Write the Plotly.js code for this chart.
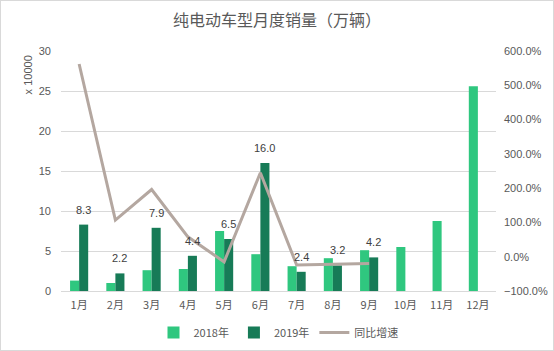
<!DOCTYPE html>
<html><head><meta charset="utf-8">
<script src="https://cdn.plot.ly/plotly-3.0.1.min.js"></script>
<style>html,body{margin:0;padding:0;background:#fff}#c{width:552px;height:349px;border:1px solid #d9d9d9}</style>
</head><body><div id="c"></div>
<script>
var months = ['1月','2月','3月','4月','5月','6月','7月','8月','9月','10月','11月','12月'];
var sales2018 = [1.3, 1.0, 2.6, 2.75, 7.5, 4.6, 3.1, 4.1, 5.1, 5.5, 8.75, 25.6];
var sales2019 = [8.3, 2.2, 7.9, 4.4, 6.5, 16.0, 2.4, 3.2, 4.2];
var growth = [5.62, 1.07, 1.96, 0.58, -0.15, 2.45, -0.24, -0.22, -0.20];
var labels2019 = ['8.3','2.2','7.9','4.4','6.5','16.0','2.4','3.2','4.2'];

var font = 'Liberation Sans, Arial, sans-serif';
var data = [
  {type:'bar', name:'2018年', x:months, y:sales2018, marker:{color:'#2fc77f'}, hoverinfo:'skip'},
  {type:'bar', name:'2019年', x:months.slice(0,9), y:sales2019, marker:{color:'#177b57'}, hoverinfo:'skip'},
  {type:'scatter', mode:'lines', name:'同比增速', x:months.slice(0,9), y:growth, yaxis:'y2',
   line:{color:'#b4a7a0', width:3}, hoverinfo:'skip'}
];
var ann = labels2019.map(function(t,i){
  return {x:months[i], y:sales2019[i], xref:'x', yref:'y', text:t, showarrow:false,
    yanchor:'bottom', yshift:7, xshift:4.5, font:{family:font, size:11, color:'#404040'}};
});
ann.push({text:'x 10000', xref:'paper', yref:'paper', x:-0.075, xanchor:'center', y:0.9, yanchor:'middle',
  textangle:-90, showarrow:false, font:{family:font, size:11, color:'#595959'}});
var layout = {
  width:552, height:349,
  margin:{l:60, r:57, t:50, b:59, autoexpand:false},
  paper_bgcolor:'#fff', plot_bgcolor:'#fff',
  title:{text:'纯电动车型月度销量（万辆）', x:0.5, xanchor:'center', y:0.945, yanchor:'middle',
    font:{family:'Noto Sans CJK SC, sans-serif', size:16, color:'#595959'}},
  barmode:'group', bargap:0.5, bargroupgap:0,
  xaxis:{type:'category', tickfont:{family:'Noto Sans CJK SC, sans-serif', size:11, color:'#595959'},
    showline:false, ticks:'', showgrid:false, fixedrange:true, ticklabelstandoff:6},
  yaxis:{range:[0,30], dtick:5, gridcolor:'#d9d9d9', gridwidth:1, zeroline:true, zerolinecolor:'#d9d9d9',
    tickfont:{family:font, size:11, color:'#595959'}, ticks:'', ticklen:0, showline:false, ticklabelstandoff:9},
  yaxis2:{range:[-1,6], dtick:1, tickformat:'.1%', overlaying:'y', side:'right', showgrid:false, zeroline:false,
    tickfont:{family:font, size:11, color:'#595959'}, ticklabelstandoff:7},
  legend:{orientation:'h', x:0.5, xanchor:'center', yref:'container', y:0.05, yanchor:'middle', itemwidth:30,
    font:{family:'Noto Sans CJK SC, sans-serif', size:11, color:'#595959'}},
  annotations:ann,
  showlegend:true
};
Plotly.newPlot('c', data, layout, {displayModeBar:false, staticPlot:true});
</script></body></html>
